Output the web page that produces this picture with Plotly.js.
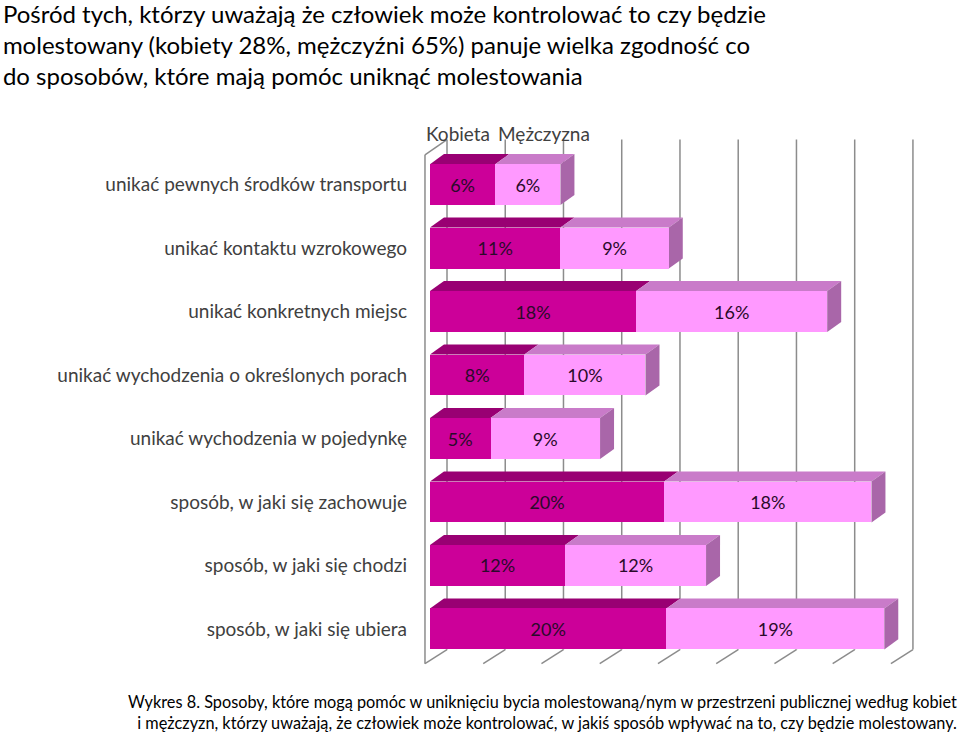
<!DOCTYPE html>
<html>
<head>
<meta charset="utf-8">
<script src="https://cdn.plot.ly/plotly-3.0.1.min.js"></script>
<style>html,body{margin:0;padding:0;background:#fff;}#chart{width:959px;height:735px;}</style>
</head>
<body>
<div id="chart"></div>
<script>
// ---- data ----
const categories = [
  'unikać pewnych środków transportu',
  'unikać kontaktu wzrokowego',
  'unikać konkretnych miejsc',
  'unikać wychodzenia o określonych porach',
  'unikać wychodzenia w pojedynkę',
  'sposób, w jaki się zachowuje',
  'sposób, w jaki się chodzi',
  'sposób, w jaki się ubiera'
];
const seriesNames = ['Kobieta', 'Mężczyzna'];
const kobieta   = [5.6, 11.2, 17.7, 8.1, 5.2, 20.1, 11.6, 20.3];
const mezczyzna = [5.6, 9.3, 16.4, 10.4, 9.4, 17.8, 12.1, 18.7];
const xTicks = [0, 5, 10, 15, 20, 25, 30, 35, 40];

const titleText = 'Pośród tych, którzy uważają że człowiek może kontrolować to czy będzie<br>molestowany (kobiety 28%, mężczyźni 65%) panuje wielka zgodność co<br>do sposobów, które mają pomóc uniknąć molestowania';
const captionText = 'Wykres 8. Sposoby, które mogą pomóc w uniknięciu bycia molestowaną/nym w przestrzeni publicznej według kobiet<br>i mężczyzn, którzy uważają, że człowiek może kontrolować, w jakiś sposób wpływać na to, czy będzie molestowany.';

// ---- styling ----
const FONT = 'Lato, "Open Sans", sans-serif';
const frontCol = ['#CC0099', '#FF99FF'];
const topCol   = ['#990073', '#C97BC9'];
const sideCol  = ['#8A006A', '#A966A9'];
const gridCol  = '#8C8C8C';
const BAR_W = 0.645;
const DX = 1.2, DY = -0.158;          // depth of the 3D bars (axis units)
const FX = -0.43, BX = 1.46;          // front / back plane x offsets of walls
const FLOOR_F = 7.547, FLOOR_B = 7.326, WALL_TOP_B = -0.709, WALL_TOP_F = -0.47;

const idx = categories.map((c, i) => i);
const series = [kobieta, mezczyzna];

const traces = series.map((vals, s) => ({
  type: 'bar', orientation: 'h', name: seriesNames[s],
  y: idx, x: vals,
  width: BAR_W,
  marker: { color: frontCol[s], line: { width: 0 } },
  texttemplate: '%{x:.0f}%',
  textposition: 'inside', insidetextanchor: 'middle',
  textangle: 0,
  textfont: { family: FONT, size: 18, color: '#2a0a2a' },
  hoverinfo: 'x+y',
  showlegend: false
}));

const shapes = [];
// back-wall gridlines + floor diagonals
xTicks.forEach(t => {
  shapes.push({ type: 'line', layer: 'below', xref: 'x', yref: 'y',
    x0: t + BX, x1: t + BX, y0: WALL_TOP_B, y1: FLOOR_B, line: { color: gridCol, width: 1.5 } });
  shapes.push({ type: 'line', layer: 'below', xref: 'x', yref: 'y',
    x0: t + FX, x1: t + BX, y0: FLOOR_F, y1: FLOOR_B, line: { color: gridCol, width: 1.5 } });
});
// left wall front edge and top diagonal
shapes.push({ type: 'line', layer: 'below', xref: 'x', yref: 'y',
  x0: FX, x1: FX, y0: WALL_TOP_F, y1: FLOOR_F, line: { color: gridCol, width: 1.5 } });
shapes.push({ type: 'line', layer: 'below', xref: 'x', yref: 'y',
  x0: FX, x1: BX, y0: WALL_TOP_F, y1: WALL_TOP_B, line: { color: gridCol, width: 1.5 } });

// 3D faces of bars
idx.forEach(i => {
  let base = 0;
  const yt = i - BAR_W / 2, yb = i + BAR_W / 2;
  series.forEach((vals, s) => {
    const a = base, b = base + vals[i];
    shapes.push({ type: 'path', layer: 'below', xref: 'x', yref: 'y',
      path: `M${a},${yt} L${b},${yt} L${b + DX},${yt + DY} L${a + DX},${yt + DY} Z`,
      fillcolor: topCol[s], line: { width: 0 } });
    if (s === series.length - 1) {
      shapes.push({ type: 'path', layer: 'below', xref: 'x', yref: 'y',
        path: `M${b},${yt} L${b + DX},${yt + DY} L${b + DX},${yb + DY} L${b},${yb} Z`,
        fillcolor: sideCol[s], line: { width: 0 } });
    }
    base = b;
  });
});

const legendX = [0.002, 0.147];
const annotations = seriesNames.map((n, s) => ({
  text: n, xref: 'paper', yref: 'paper', x: legendX[s], y: 1.0075,
  xanchor: 'left', yanchor: 'middle', showarrow: false,
  font: { family: FONT, size: 19, color: '#404040' }
}));
annotations.push({
  text: captionText, xref: 'paper', yref: 'paper', x: 1.0808, y: -0.043,
  xanchor: 'right', yanchor: 'top', align: 'right', showarrow: false,
  font: { family: FONT, size: 16.3, color: '#000' }
});

const layout = {
  width: 959, height: 735,
  margin: { l: 423, r: 40, t: 137, b: 68, pad: 0 },
  paper_bgcolor: '#fff', plot_bgcolor: 'rgba(0,0,0,0)',
  barmode: 'stack', bargap: 0,
  title: { text: titleText, xref: 'container', yref: 'container', x: 0.003, xanchor: 'left',
           y: 0.969, yanchor: 'top', font: { family: FONT, size: 24, color: '#000' } },
  xaxis: { range: [-0.6, 41.98], showgrid: false, zeroline: false, showticklabels: false,
           ticks: '', showline: false, fixedrange: true },
  yaxis: { range: [7.6, -0.75], tickvals: idx, ticktext: categories, showgrid: false,
           zeroline: false, ticks: '', showline: false, ticklabelstandoff: 15,
           tickfont: { family: FONT, size: 19, color: '#404040' }, fixedrange: true },
  shapes: shapes,
  annotations: annotations,
  showlegend: false
};

Plotly.newPlot('chart', traces, layout, { displayModeBar: false, staticPlot: true });
</script>
</body>
</html>
